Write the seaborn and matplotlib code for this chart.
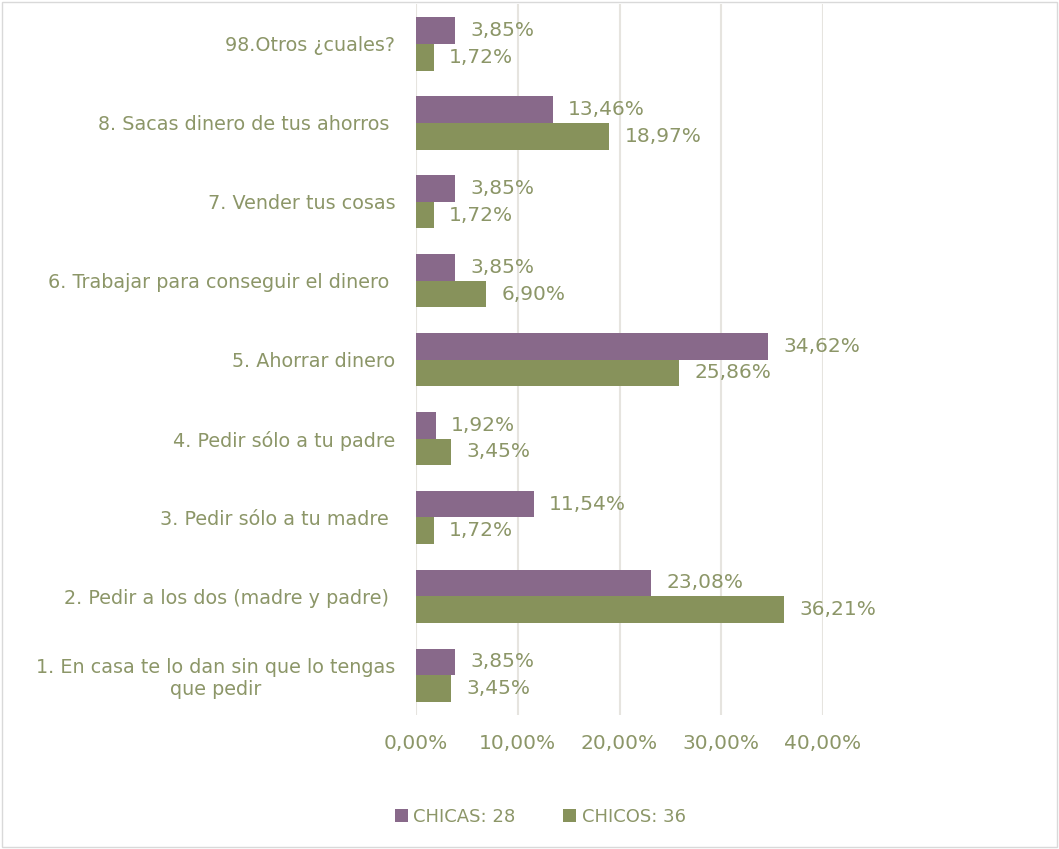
import numpy as np
import matplotlib
matplotlib.use('Agg')
import matplotlib.pyplot as plt
import seaborn as sns
import pandas as pd

# Data (top to bottom)
categories = ['98.Otros ¿cuales?',
              '8. Sacas dinero de tus ahorros ',
              '7. Vender tus cosas',
              '6. Trabajar para conseguir el dinero ',
              '5. Ahorrar dinero',
              '4. Pedir sólo a tu padre',
              '3. Pedir sólo a tu madre ',
              '2. Pedir a los dos (madre y padre) ',
              '1. En casa te lo dan sin que lo tengas\nque pedir']
chicas = [3.85, 13.46, 3.85, 3.85, 34.62, 1.92, 11.54, 23.08, 3.85]
chicos = [1.72, 18.97, 1.72, 6.90, 25.86, 3.45, 1.72, 36.21, 3.45]
series_names = ['CHICAS: 28', 'CHICOS: 36']

df = pd.DataFrame({
    'categoria': categories * 2,
    'valor': chicas + chicos,
    'grupo': [series_names[0]] * len(categories) + [series_names[1]] * len(categories),
})

text_color = '#8c9668'
palette = {series_names[0]: '#88698a', series_names[1]: '#87925b'}

sns.set_style('white')
plt.rcParams['font.family'] = ['DejaVu Sans']

fig = plt.figure(figsize=(10.59, 8.49), dpi=100)
ax = fig.add_axes([0.393, 0.158, 0.384, 0.837])

sns.barplot(data=df, y='categoria', x='valor', hue='grupo', palette=palette,
            orient='h', width=0.68, saturation=1, linewidth=0, ax=ax, order=categories)

for cont in ax.containers:
    ax.bar_label(cont, labels=[f'{v:.2f}%'.replace('.', ',') for v in cont.datavalues],
                 padding=11, color=text_color, fontsize=14.5)

ax.set_xlim(0, 40)
ax.set_xticks([0, 10, 20, 30, 40])
ax.set_xticklabels([f'{t:.2f}%'.replace('.', ',') for t in [0, 10, 20, 30, 40]])
ax.grid(axis='x', color='#e6e4df', linewidth=1.5)
ax.set_axisbelow(True)
for s in ax.spines.values():
    s.set_visible(False)
ax.set_xlabel('')
ax.set_ylabel('')
ax.tick_params(axis='x', colors=text_color, labelsize=14.5, length=0, pad=14)
ax.tick_params(axis='y', colors=text_color, labelsize=13.8, length=0, pad=15)
for lbl in ax.get_yticklabels():
    lbl.set_multialignment('center')

handles, labels = ax.get_legend_handles_labels()
ax.legend_.remove()
fig.legend(handles, labels, loc='center', bbox_to_anchor=(0.51, 0.038),
           ncol=2, frameon=False, fontsize=13, labelcolor=text_color,
           handlelength=0.75, handleheight=0.75, handletextpad=0.3, columnspacing=2.6)

fig.patches.append(plt.Rectangle((0.002, 0.002), 0.996, 0.996, transform=fig.transFigure,
                                 fill=False, edgecolor='#d9d9d9', linewidth=1))

fig.savefig('out.png', dpi=100)
